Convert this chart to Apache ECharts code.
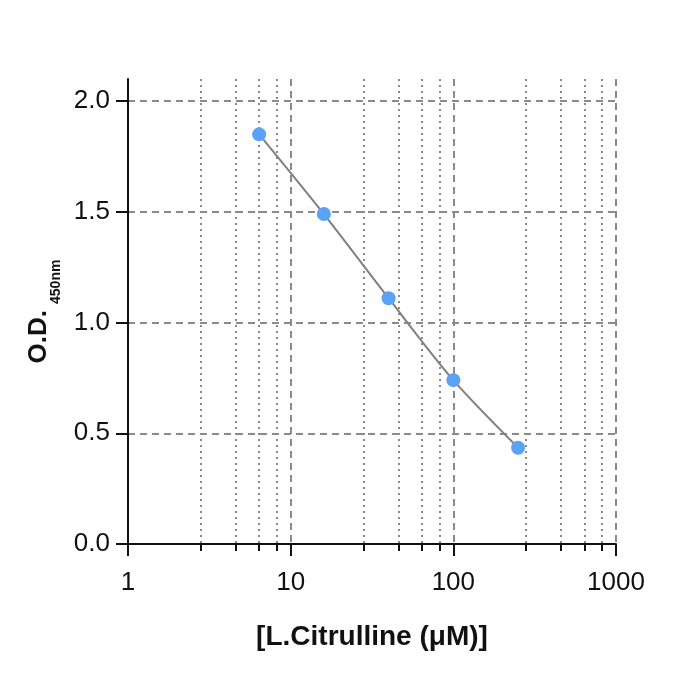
<!DOCTYPE html>
<html style="height: 100%">
<head>
<meta charset="utf-8">
</head>
<body style="height: 100%; margin: 0; background: #fff">
<div id="container" style="width: 700px; height: 700px"></div>
<script src="https://cdn.jsdelivr.net/npm/echarts@6/dist/echarts.min.js"></script>
<script type="text/javascript">
// standard curve readings
var concentration = [6.4, 16, 40, 100, 250];
var od450 = [1.85, 1.49, 1.11, 0.74, 0.435];

// axis ticks
var yTicks = [0, 0.5, 1.0, 1.5, 2.0];
var xMinorTicks = [2.8, 4.6, 6.4, 8.2, 28, 46, 64, 82, 280, 460, 640, 820];

var font = 'Liberation Sans, Arial, sans-serif';
var gridGray = '#8a8a8a';

var dom = document.getElementById('container');
var myChart = echarts.init(dom);

var option = {
    animation: false,
    backgroundColor: '#fff',
    grid: {
        left: 128,
        right: 84,
        top: 79,
        bottom: 156
    },
    xAxis: [{
        type: 'log',
        logBase: 10,
        min: 1,
        max: 1000,
        position: 'bottom',
        name: '[L.Citrulline (μM)]',
        nameLocation: 'middle',
        nameGap: 79,
        nameTextStyle: {
            fontFamily: font,
            fontSize: 28,
            fontWeight: 'bold',
            color: '#111'
        },
        axisLine: {lineStyle: {color: '#111', width: 2}},
        axisTick: {length: 12, lineStyle: {color: '#111', width: 2}},
        axisLabel: {
            margin: 26,
            fontFamily: font,
            fontSize: 26,
            color: '#111',
            formatter: function (v) {
                return String(Math.round(v));
            }
        },
        splitLine: {
            show: true,
            lineStyle: {color: gridGray, width: 2, type: [7, 5]}
        }
    }, {
        // minor ticks and dotted lines
        type: 'log',
        logBase: 10,
        min: 1,
        max: 1000,
        position: 'bottom',
        axisLine: {show: false},
        axisTick: {
            length: 7,
            customValues: xMinorTicks,
            lineStyle: {color: '#111', width: 2}
        },
        axisLabel: {show: false},
        splitLine: {
            show: true,
            lineStyle: {color: gridGray, width: 2, type: [2, 4]}
        }
    }],
    yAxis: {
        type: 'value',
        min: 0,
        max: 2.1,
        name: '{a|O.D.}{b|450nm}',
        nameLocation: 'middle',
        nameRotate: 90,
        nameGap: 69,
        nameTextStyle: {
            rich: {
                a: {
                    fontFamily: font,
                    fontSize: 26,
                    fontWeight: 'bold',
                    color: '#111',
                    lineHeight: 30
                },
                b: {
                    fontFamily: font,
                    fontSize: 14,
                    fontWeight: 'bold',
                    color: '#111',
                    lineHeight: 16,
                    padding: [34, 0, 0, 6]
                }
            }
        },
        axisLine: {lineStyle: {color: '#111', width: 2}},
        axisTick: {
            length: 12,
            customValues: yTicks,
            lineStyle: {color: '#111', width: 2}
        },
        axisLabel: {
            margin: 18,
            customValues: yTicks,
            fontFamily: font,
            fontSize: 26,
            color: '#111',
            formatter: function (v) {
                return v.toFixed(1);
            }
        },
        splitLine: {
            show: true,
            lineStyle: {color: gridGray, width: 2, type: [7, 5]}
        }
    },
    series: [{
        type: 'line',
        xAxisIndex: 0,
        data: concentration.map(function (c, i) {
            return [c, od450[i]];
        }),
        smooth: 0.3,
        symbol: 'circle',
        symbolSize: 14,
        itemStyle: {color: '#5aa2f5'},
        lineStyle: {color: '#808080', width: 2},
        z: 5
    }]
};

myChart.setOption(option);
</script>
</body>
</html>
